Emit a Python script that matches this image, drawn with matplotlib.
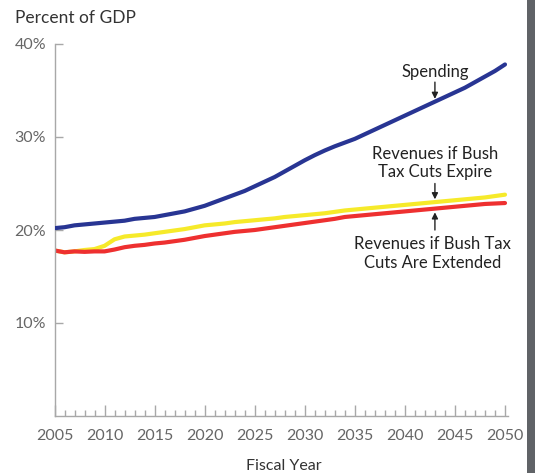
import matplotlib
matplotlib.use("Agg")
import matplotlib.pyplot as plt
from matplotlib.ticker import MultipleLocator
from matplotlib.patches import Rectangle

years = list(range(2005, 2051))
spending = [20.2, 20.3, 20.5, 20.6, 20.7, 20.8, 20.9, 21.0, 21.2, 21.3,
            21.4, 21.6, 21.8, 22.0, 22.3, 22.6, 23.0, 23.4, 23.8, 24.2,
            24.7, 25.2, 25.7, 26.3, 26.9, 27.5, 28.05, 28.55, 29.0, 29.4,
            29.8, 30.3, 30.8, 31.3, 31.8, 32.3, 32.8, 33.3, 33.8, 34.3,
            34.8, 35.3, 35.9, 36.5, 37.1, 37.8]
rev_expire = [17.8, 17.6, 17.7, 17.85, 17.95, 18.3, 19.0, 19.3, 19.4, 19.5,
              19.65, 19.8, 19.95, 20.1, 20.3, 20.5, 20.6, 20.7, 20.85, 20.95,
              21.05, 21.15, 21.25, 21.4, 21.5, 21.6, 21.7, 21.8, 21.95, 22.1,
              22.2, 22.3, 22.4, 22.5, 22.6, 22.7, 22.8, 22.9, 23.0, 23.1,
              23.2, 23.3, 23.4, 23.5, 23.65, 23.8]
rev_extend = [17.8, 17.6, 17.7, 17.65, 17.7, 17.7, 17.9, 18.15, 18.3, 18.4,
              18.55, 18.65, 18.8, 18.95, 19.15, 19.35, 19.5, 19.65, 19.8, 19.9,
              20.0, 20.15, 20.3, 20.45, 20.6, 20.75, 20.9, 21.05, 21.2, 21.4,
              21.5, 21.6, 21.7, 21.8, 21.9, 22.0, 22.1, 22.2, 22.3, 22.4,
              22.5, 22.6, 22.7, 22.8, 22.85, 22.9]
y_ticks = [10, 20, 30, 40]
y_labels = ["10%", "20%", "30%", "40%"]
x_major = list(range(2005, 2051, 5))

plt.rcParams['font.family'] = ['Lato', 'DejaVu Sans']

W, H = 535, 473
fig = plt.figure(figsize=(W / 100, H / 100), dpi=100)
ax = fig.add_axes([54.5 / W, (H - 416) / H, 453.5 / W, 372 / H])

blue = '#283593'
yellow = '#f6ea2a'
red = '#ee3030'
ax.plot(years, spending, color=blue, lw=3.0, solid_capstyle='round', zorder=3)
ax.plot(years, rev_expire, color=yellow, lw=3.0, solid_capstyle='round', zorder=2)
ax.plot(years, rev_extend, color=red, lw=3.0, solid_capstyle='round', zorder=2.5)

ax.set_xlim(2005, 2050.3)
ax.set_ylim(0, 40)
for s in ['top', 'right']:
    ax.spines[s].set_visible(False)
for s in ['left', 'bottom']:
    ax.spines[s].set_color('#a8a8a8')
    ax.spines[s].set_linewidth(1.0)

ax.set_yticks(y_ticks)
ax.set_yticklabels(y_labels)
ax.set_xticks(x_major)
ax.xaxis.set_minor_locator(MultipleLocator(1))
ax.tick_params(axis='y', direction='in', length=6, width=1, color='#a8a8a8',
               labelsize=11.5, labelcolor='#666666', pad=6)
ax.tick_params(axis='x', which='major', direction='in', length=8, width=1,
               color='#a8a8a8', labelsize=11.5, labelcolor='#666666', pad=9)
ax.tick_params(axis='x', which='minor', direction='in', length=4, width=1,
               color='#a8a8a8')

fig.text(15 / W, 1 - 18 / H, "Percent of GDP", fontsize=12.5, color='#333333',
         ha='left', va='center')
fig.text(284 / W, 1 - 466 / H, "Fiscal Year", fontsize=11.5, color='#333333',
         ha='center', va='center')

tc = '#222222'
arrow = dict(arrowstyle='-|>', color='#222222', lw=1, mutation_scale=9,
             shrinkA=0, shrinkB=0)
ax.text(2043, 37.0, "Spending", ha='center', va='center', fontsize=12, color=tc)
ax.annotate("", xy=(2043, 34.1), xytext=(2043, 35.9), arrowprops=arrow)
ax.text(2043, 27.2, "Revenues if Bush\nTax Cuts Expire", ha='center', va='center',
        fontsize=12, color=tc, linespacing=1.2)
ax.annotate("", xy=(2043, 23.3), xytext=(2043, 25.0), arrowprops=arrow)
ax.text(2042.8, 17.5, "Revenues if Bush Tax\nCuts Are Extended", ha='center',
        va='center', fontsize=12, color=tc, linespacing=1.2)
ax.annotate("", xy=(2043, 21.9), xytext=(2043, 20.0), arrowprops=arrow)

fig.patches.append(Rectangle((527 / W, 0), 8 / W, 1, transform=fig.transFigure,
                             facecolor='#606367', edgecolor='none'))

fig.savefig('out.png', dpi=100)
